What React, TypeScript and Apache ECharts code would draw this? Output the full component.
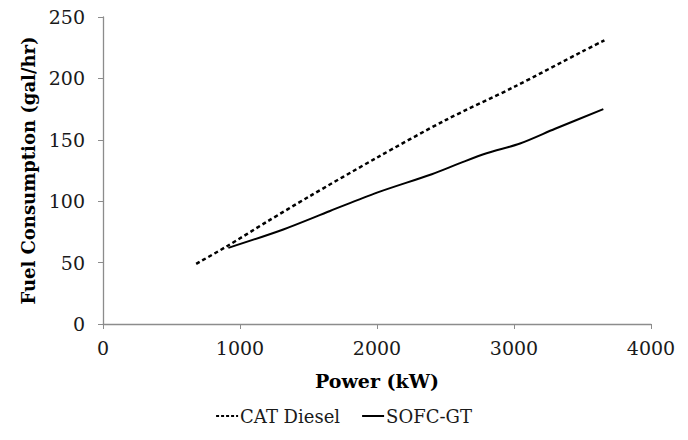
import React, { useEffect, useRef } from "react";
import * as echarts from "echarts";

const dieselPower = [680, 900, 1200, 1500, 2000, 2500, 3000, 3500, 3660];
const dieselFuel = [49, 63, 83.5, 103.5, 135.5, 166, 193, 222, 231];

const sofcPower = [915, 1316, 1657, 2000, 2400, 2606, 2800, 3044, 3300, 3652];
const sofcFuel = [62, 77, 92, 107, 122, 131, 139, 147, 159, 175];

const xTicks = [0, 1000, 2000, 3000, 4000];
const yTicks = [0, 50, 100, 150, 200, 250];

const FONT = "'DejaVu Serif', serif";

export default function App() {
  const ref = useRef<HTMLDivElement>(null);
  useEffect(() => {
    if (!ref.current) return;
    const chart = echarts.init(ref.current, undefined, { renderer: "svg" });
    const axisLine = { show: true, lineStyle: { color: "#8c8c8c", width: 1.3 } };
    chart.setOption({
      animation: false,
      backgroundColor: "#ffffff",
      textStyle: { fontFamily: FONT },
      grid: { left: 103, right: 37, top: 17, bottom: 116, containLabel: false },
      xAxis: {
        type: "value",
        min: xTicks[0],
        max: xTicks[xTicks.length - 1],
        interval: 1000,
        name: "Power (kW)",
        nameLocation: "middle",
        nameGap: 47,
        nameTextStyle: { fontFamily: FONT, fontWeight: "bold", fontSize: 19, color: "#000" },
        axisLine,
        axisTick: { show: true, length: 5, lineStyle: { color: "#8c8c8c" } },
        axisLabel: { fontFamily: FONT, fontSize: 19, color: "#1a1a1a", margin: 14, formatter: (v: number) => String(v) },
        splitLine: { show: false },
      },
      yAxis: {
        type: "value",
        min: yTicks[0],
        max: yTicks[yTicks.length - 1],
        interval: 50,
        name: "Fuel Consumption (gal/hr)",
        nameLocation: "middle",
        nameRotate: 90,
        nameGap: 64,
        nameTextStyle: { fontFamily: FONT, fontWeight: "bold", fontSize: 18, color: "#000" },
        axisLine,
        axisTick: { show: true, length: 5, lineStyle: { color: "#8c8c8c" } },
        axisLabel: { fontFamily: FONT, fontSize: 19, color: "#1a1a1a", margin: 18, formatter: (v: number) => String(v) },
        splitLine: { show: false },
      },
      legend: {
        bottom: 10,
        left: "center",
        itemWidth: 22,
        itemHeight: 2,
        itemGap: 22,
        textStyle: { fontFamily: FONT, fontSize: 18, color: "#1a1a1a", padding: [0, 0, 0, -3] },
        data: [
          { name: "CAT Diesel", icon: "path://M0,0h3v2h-3z M5,0h3v2h-3z M10,0h3v2h-3z M15,0h3v2h-3z M20,0h2v2h-2z", itemStyle: { color: "#000" } },
          { name: "SOFC-GT", icon: "path://M0,0h22v2h-22z", itemStyle: { color: "#000" } },
        ],
      },
      series: [
        {
          name: "CAT Diesel",
          type: "line",
          data: dieselPower.map((p, i) => [p, dieselFuel[i]]),
          symbol: "none",
          smooth: 0.3,
          lineStyle: { color: "#000", width: 2.5, type: [4, 3] },
          itemStyle: { color: "#000" },
        },
        {
          name: "SOFC-GT",
          type: "line",
          data: sofcPower.map((p, i) => [p, sofcFuel[i]]),
          symbol: "none",
          smooth: 0.3,
          lineStyle: { color: "#000", width: 2 },
          itemStyle: { color: "#000" },
        },
      ],
    });
    return () => chart.dispose();
  }, []);
  return <div ref={ref} style={{ width: 688, height: 440, position: "absolute", left: 0, top: 0 }} />;
}
